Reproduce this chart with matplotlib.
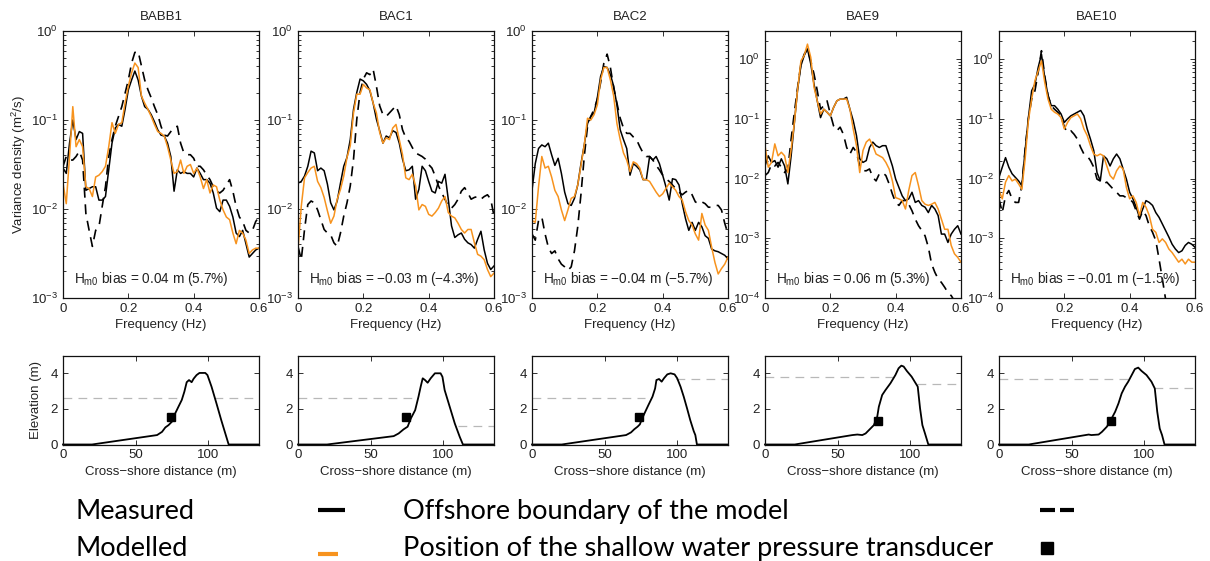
import numpy as np
import matplotlib
matplotlib.use("Agg")
import matplotlib.pyplot as plt
from matplotlib.lines import Line2D
from matplotlib.ticker import LogLocator, NullFormatter, FuncFormatter, FixedLocator

plt.rcParams["font.family"] = ["Liberation Sans", "DejaVu Sans"]
plt.rcParams["mathtext.fontset"] = "custom"
plt.rcParams["mathtext.rm"] = "Liberation Sans"
plt.rcParams["mathtext.it"] = "Liberation Sans:italic"

# ---------------------------------------------------------------- data
stations = ["BABB1", "BAC1", "BAC2", "BAE9", "BAE10"]
bias_labels = ["0.04 m (5.7%)", "\u22120.03 m (\u22124.3%)", "\u22120.04 m (\u22125.7%)",
               "0.06 m (5.3%)", "\u22120.01 m (\u22121.5%)"]

# frequency axis of the spectra (Hz)
freq = np.round(np.arange(61) * 0.01, 2)

# variance density spectra, stored as log10(E) with E in m^2/s
babb1_measured = [-1.54, -1.60, -1.26, -1.00, -1.22, -1.13, -1.15, -1.79, -1.77, -1.75,
                  -1.75, -1.90, -1.90, -1.86, -1.56, -1.26, -1.09, -1.05, -1.07, -0.88,
                  -0.66, -0.55, -0.45, -0.55, -0.73, -0.85, -0.88, -0.94, -1.02, -1.11,
                  -1.17, -1.18, -1.26, -1.41, -1.80, -1.56, -1.60, -1.58, -1.60, -1.60,
                  -1.64, -1.54, -1.60, -1.67, -1.67, -1.71, -1.82, -1.99, -2.03, -1.90,
                  -1.90, -1.97, -2.09, -2.27, -2.31, -2.24, -2.39, -2.54, -2.50, -2.46, -2.44]
babb1_modelled = [-1.71, -1.94, -1.41, -0.85, -1.30, -1.22, -1.30, -1.75, -1.77, -1.86,
                  -1.64, -1.62, -1.58, -1.52, -1.30, -1.03, -1.15, -1.05, -1.03, -0.81,
                  -0.62, -0.47, -0.36, -0.41, -0.73, -0.81, -0.88, -0.96, -1.05, -1.13,
                  -1.15, -1.18, -1.30, -1.45, -1.60, -1.58, -1.45, -1.60, -1.52, -1.50,
                  -1.60, -1.54, -1.64, -1.77, -1.67, -1.82, -1.73, -1.75, -1.90, -2.01,
                  -2.09, -2.12, -2.27, -2.39, -2.24, -2.27, -2.35, -2.50, -2.46, -2.44, -2.44]
babb1_offshore = [-1.52, -1.41, -1.45, -1.45, -1.41, -1.35, -1.45, -2.05, -2.24, -2.42,
                  -2.24, -2.20, -1.97, -1.75, -1.41, -1.22, -1.07, -0.96, -0.85, -0.70,
                  -0.55, -0.36, -0.24, -0.23, -0.39, -0.55, -0.66, -0.75, -0.85, -0.94,
                  -1.07, -1.17, -1.18, -1.13, -1.09, -1.07, -1.26, -1.37, -1.39, -1.39,
                  -1.43, -1.52, -1.52, -1.56, -1.62, -1.67, -1.75, -1.80, -1.82, -1.79,
                  -1.73, -1.67, -1.80, -1.97, -2.09, -2.14, -2.24, -2.27, -2.24, -2.14, -2.09]

bac1_measured = [-1.71, -1.69, -1.63, -1.52, -1.35, -1.37, -1.57, -1.54, -1.57, -1.72,
                 -1.93, -2.01, -1.91, -1.71, -1.52, -1.42, -1.22, -0.88, -0.69, -0.54,
                 -0.56, -0.60, -0.67, -0.81, -0.99, -1.12, -1.26, -1.18, -1.20, -1.12,
                 -1.14, -1.26, -1.44, -1.57, -1.56, -1.52, -1.89, -1.78, -1.52, -1.57,
                 -1.69, -1.80, -1.82, -1.69, -1.71, -1.61, -1.89, -2.19, -2.32, -2.29,
                 -2.27, -2.34, -2.38, -2.40, -2.44, -2.34, -2.25, -2.46, -2.61, -2.68, -2.64]
bac1_modelled = [-2.46, -1.97, -1.65, -1.59, -1.54, -1.52, -1.69, -1.76, -1.87, -2.02,
                 -2.16, -2.08, -1.89, -1.78, -1.63, -1.42, -1.29, -0.92, -0.71, -0.71,
                 -0.60, -0.64, -0.66, -0.81, -0.92, -1.14, -1.26, -1.20, -1.22, -1.09,
                 -1.05, -1.22, -1.39, -1.65, -1.67, -1.61, -1.74, -2.01, -1.95, -1.97,
                 -2.06, -2.08, -2.04, -1.99, -1.91, -1.86, -2.04, -2.08, -2.10, -2.16,
                 -2.23, -2.27, -2.23, -2.23, -2.38, -2.51, -2.53, -2.57, -2.68, -2.76, -2.72]
bac1_offshore = [-2.42, -2.57, -2.23, -1.95, -1.91, -1.93, -2.01, -2.12, -2.23, -2.27,
                 -2.29, -2.38, -2.42, -2.27, -2.08, -1.93, -1.74, -1.44, -0.99, -0.69,
                 -0.54, -0.47, -0.49, -0.43, -0.62, -0.84, -0.94, -0.96, -0.92, -0.88,
                 -0.84, -0.94, -1.11, -1.20, -1.24, -1.31, -1.37, -1.39, -1.41, -1.44,
                 -1.50, -1.54, -1.63, -1.74, -1.82, -1.89, -1.97, -1.99, -1.95, -1.89,
                 -1.80, -1.76, -1.82, -1.89, -1.87, -1.86, -1.89, -1.86, -1.84, -1.89, -2.08]

bac2_measured = [-1.79, -1.49, -1.32, -1.28, -1.30, -1.26, -1.39, -1.51, -1.43, -1.60,
                 -1.81, -1.94, -1.96, -1.88, -1.73, -1.49, -1.28, -1.04, -0.96, -0.92,
                 -0.75, -0.51, -0.40, -0.41, -0.49, -0.62, -0.83, -1.11, -1.22, -1.32,
                 -1.62, -1.49, -1.52, -1.56, -1.67, -1.67, -1.41, -1.45, -1.41, -1.49,
                 -1.62, -1.75, -1.90, -1.66, -1.67, -1.73, -1.94, -2.11, -2.24, -2.15,
                 -2.24, -2.15, -2.20, -2.30, -2.33, -2.45, -2.47, -2.48, -2.50, -2.52, -2.56]
bac2_modelled = [-2.13, -2.15, -1.75, -1.41, -1.54, -1.52, -1.64, -1.79, -1.86, -2.01,
                 -2.13, -2.01, -1.88, -1.86, -1.73, -1.51, -1.28, -0.98, -1.00, -0.94,
                 -0.83, -0.55, -0.41, -0.41, -0.55, -0.73, -1.04, -1.22, -1.37, -1.45,
                 -1.58, -1.47, -1.49, -1.54, -1.67, -1.67, -1.69, -1.75, -1.81, -1.86,
                 -1.83, -1.77, -1.71, -1.75, -1.79, -1.86, -1.90, -2.03, -2.13, -2.18,
                 -2.28, -2.35, -2.05, -2.18, -2.24, -2.43, -2.60, -2.73, -2.67, -2.62, -2.54]
bac2_offshore = [-2.28, -2.35, -2.13, -2.09, -2.28, -2.43, -2.50, -2.47, -2.56, -2.62,
                 -2.65, -2.69, -2.65, -2.47, -2.20, -1.83, -1.41, -1.07, -0.96, -0.88,
                 -0.77, -0.58, -0.36, -0.26, -0.41, -0.64, -0.81, -0.98, -1.09, -1.15,
                 -1.15, -1.19, -1.22, -1.30, -1.37, -1.41, -1.41, -1.45, -1.51, -1.56,
                 -1.62, -1.66, -1.69, -1.73, -1.77, -1.81, -1.84, -1.81, -1.79, -1.84,
                 -1.92, -1.94, -1.92, -1.94, -1.98, -1.98, -1.96, -1.96, -2.01, -2.16, -2.28]

bae9_measured = [-1.79, -1.62, -1.73, -1.70, -1.81, -1.67, -1.79, -2.09, -1.62, -1.06,
                 -0.50, -0.11, 0.06, 0.17, -0.08, -0.42, -0.70, -0.98, -0.84, -0.89,
                 -0.95, -0.81, -0.70, -0.67, -0.67, -0.64, -0.84, -1.03, -1.28, -1.67,
                 -1.73, -1.70, -1.48, -1.39, -1.45, -1.48, -1.45, -1.45, -1.62, -1.79,
                 -2.01, -2.15, -2.29, -2.37, -2.34, -2.23, -2.40, -2.37, -2.45, -2.48,
                 -2.57, -2.45, -2.51, -2.62, -2.93, -2.93, -3.07, -2.93, -2.85, -2.79, -2.93]
bae9_modelled = [-1.45, -1.81, -1.73, -1.42, -1.62, -1.56, -1.62, -1.90, -1.51, -1.06,
                 -0.50, -0.03, 0.06, 0.25, 0.03, -0.47, -0.70, -0.92, -0.84, -0.89,
                 -0.95, -0.81, -0.70, -0.67, -0.67, -0.67, -0.84, -1.17, -1.45, -1.90,
                 -1.53, -1.39, -1.34, -1.45, -1.59, -1.62, -1.65, -1.73, -1.84, -2.04,
                 -2.32, -2.34, -2.37, -2.51, -2.20, -1.95, -1.90, -2.12, -2.37, -2.43,
                 -2.45, -2.43, -2.40, -2.51, -2.68, -2.85, -2.85, -3.12, -3.26, -3.32, -3.40]
bae9_offshore = [-1.95, -1.90, -1.76, -1.79, -1.73, -1.81, -1.90, -1.84, -1.34, -0.89,
                 -0.47, -0.08, 0.08, 0.17, -0.03, -0.25, -0.53, -0.84, -0.78, -0.70,
                 -0.92, -1.12, -1.20, -1.14, -1.26, -1.48, -1.59, -1.48, -1.56, -1.79,
                 -1.87, -1.87, -1.84, -1.98, -2.04, -1.92, -1.90, -1.95, -2.09, -2.26,
                 -2.40, -2.45, -2.37, -2.37, -2.43, -2.54, -2.68, -2.79, -2.87, -2.96,
                 -3.15, -3.43, -3.57, -3.68, -3.74, -3.82, -3.91, -3.96, -4.05, -4.13, -4.21]

bae10_measured = [-1.98, -1.81, -1.65, -1.81, -1.92, -1.98, -2.04, -2.12, -1.53, -0.98,
                  -0.53, -0.42, -0.14, 0.08, -0.31, -0.61, -0.78, -0.78, -0.84, -0.92,
                  -1.06, -1.00, -0.95, -0.92, -0.89, -0.86, -0.95, -1.17, -1.34, -1.53,
                  -1.90, -2.04, -1.62, -1.67, -1.79, -1.67, -1.59, -1.67, -1.84, -2.01,
                  -2.23, -2.34, -2.48, -2.65, -2.51, -2.37, -2.40, -2.45, -2.57, -2.65,
                  -2.76, -2.87, -2.98, -3.10, -3.18, -3.24, -3.21, -3.12, -3.07, -3.10, -3.15]
bae10_modelled = [-2.20, -2.34, -2.06, -1.95, -2.04, -2.01, -2.09, -2.18, -1.67, -1.03,
                  -0.67, -0.36, -0.20, -0.03, -0.39, -0.67, -0.84, -0.89, -0.92, -0.98,
                  -1.17, -1.06, -0.98, -0.95, -0.92, -1.00, -1.17, -1.28, -1.45, -1.59,
                  -1.62, -1.59, -1.62, -1.79, -1.95, -2.01, -1.87, -1.79, -1.84, -2.15,
                  -2.34, -2.29, -2.40, -2.62, -2.40, -2.48, -2.62, -2.85, -2.90, -3.07,
                  -3.01, -3.07, -3.18, -3.24, -3.32, -3.40, -3.35, -3.43, -3.35, -3.40, -3.40]
bae10_offshore = [-2.34, -2.57, -2.29, -2.20, -2.34, -2.40, -2.40, -2.12, -1.51, -1.00,
                  -0.67, -0.53, -0.22, 0.14, -0.28, -0.61, -0.78, -0.84, -0.89, -0.95,
                  -1.14, -1.23, -1.20, -1.26, -1.34, -1.48, -1.59, -1.62, -1.70, -1.81,
                  -2.01, -2.04, -2.09, -2.06, -2.12, -2.18, -2.23, -2.29, -2.29, -2.32,
                  -2.34, -2.40, -2.54, -2.68, -2.54, -2.62, -2.79, -2.90, -3.04, -3.35,
                  -3.68, -4.02, -4.30]

# beach profiles: cross-shore distance (m) and elevation (m)
babb1_profile_x = [0, 20, 64.8, 68.2, 70.5, 72.7, 75.0, 77.3, 79.5, 81.8, 83.6, 85.2, 86.8,
                   88.6, 90.0, 92.0, 94.0, 98.0, 99.5, 102.3, 105.7, 109.0, 112.5, 114.1, 135]
babb1_profile_z = [0, 0, 0.53, 0.71, 0.96, 1.09, 1.28, 1.75, 2.12, 2.50, 2.97, 3.50, 3.62,
                   3.50, 3.70, 3.90, 4.02, 4.02, 3.90, 3.25, 2.31, 1.37, 0.43, 0, 0]
bac1_profile_x = [0, 20, 65.9, 69.3, 72.7, 75.5, 77.7, 80.7, 83.0, 84.5, 85.9, 87.5, 89.3,
                  91.4, 94.3, 98.2, 99.5, 101.0, 104.5, 108.0, 111.4, 113.6, 135]
bac1_profile_z = [0, 0, 0.47, 0.62, 0.85, 1.00, 1.46, 1.93, 2.69, 3.25, 3.72, 3.62, 3.47,
                  3.72, 4.00, 4.00, 3.80, 3.06, 2.12, 1.18, 0.43, 0, 0]
bac2_profile_x = [0, 20.5, 64.8, 68.2, 70.5, 72.7, 74.3, 75.7, 78.0, 80.2, 83.0, 84.8, 85.7,
                  87.5, 89.3, 90.9, 93.2, 95.5, 98.2, 100.0, 102.3, 104.5, 106.8, 109.0,
                  111.4, 112.5, 113.6, 135]
bac2_profile_z = [0, 0, 0.53, 0.68, 0.86, 1.00, 1.13, 1.43, 1.84, 2.22, 2.69, 3.15, 3.62,
                  3.68, 3.53, 3.72, 3.94, 4.00, 3.94, 3.72, 3.25, 2.69, 2.03, 1.37,
                  0.75, 0.53, 0, 0]
bae9_profile_x = [0, 20.5, 60.2, 63.6, 67.0, 69.3, 72.7, 75.0, 77.3, 78.4, 80.7, 83.0, 86.4,
                  89.8, 92.0, 93.9, 95.5, 97.7, 101.0, 105.2, 106.8, 108.4, 110.2, 112.5, 135]
bae9_profile_z = [0, 0, 0.53, 0.56, 0.53, 0.62, 0.90, 1.09, 1.56, 2.12, 2.78, 3.06, 3.44,
                  3.90, 4.28, 4.43, 4.38, 4.13, 3.81, 3.25, 2.03, 1.09, 0.62, 0, 0]
bae10_profile_x = [0, 20.5, 61.8, 63.6, 68.6, 70.9, 74.3, 76.6, 80.0, 82.3, 84.5, 86.8, 89.0,
                   91.4, 93.6, 95.9, 98.2, 101.6, 105.0, 107.3, 109.0, 110.7, 112.3, 114.0, 135]
bae10_profile_z = [0, 0, 0.56, 0.53, 0.56, 0.71, 1.00, 1.31, 1.84, 2.31, 2.87, 3.25, 3.53,
                   3.90, 4.24, 4.32, 4.13, 3.90, 3.53, 3.15, 1.84, 0.90, 0.53, 0, 0]

# pressure transducer position (x, z)
sensor_x = [74.5, 74.5, 73.9, 77.9, 77.3]
sensor_z = [1.56, 1.56, 1.56, 1.33, 1.31]

# water levels seaward / landward of the dune and their cross-shore extents
level_sea = [2.62, 2.60, 2.59, 3.81, 3.68]
level_sea_end = [80, 80, 78, 90, 92]
level_land = [2.62, 1.05, 3.66, 3.38, 3.15]
level_land_start = [104, 110, 99, 105, 107]

measured = [babb1_measured, bac1_measured, bac2_measured, bae9_measured, bae10_measured]
modelled = [babb1_modelled, bac1_modelled, bac2_modelled, bae9_modelled, bae10_modelled]
offshore = [babb1_offshore, bac1_offshore, bac2_offshore, bae9_offshore, bae10_offshore]
profile_x = [babb1_profile_x, bac1_profile_x, bac2_profile_x, bae9_profile_x, bae10_profile_x]
profile_z = [babb1_profile_z, bac1_profile_z, bac2_profile_z, bae9_profile_z, bae10_profile_z]
spec_ylim = [(1e-3, 1.0), (1e-3, 1.0), (1e-3, 1.0), (1e-4, 2.95), (1e-4, 2.95)]

# ---------------------------------------------------------------- layout
W, H = 1210, 561
ORANGE = "#F7931E"
TXT = "#222222"
FS = 9.5

fig = plt.figure(figsize=(W / 100, H / 100), dpi=100)
fig.patch.set_facecolor("white")

col_left = [63, 298, 532, 765, 999]
col_w = 196


def px_axes(left, top, width, height):
    return fig.add_axes([left / W, 1 - (top + height) / H, width / W, height / H])


def style_axes(ax):
    for s in ax.spines.values():
        s.set_linewidth(0.9)
        s.set_color("#111111")
    ax.tick_params(which="both", direction="in", top=True, right=True,
                   labelsize=FS, colors="#111111", labelcolor=TXT, width=0.6)
    ax.tick_params(which="major", length=3.5)
    ax.tick_params(which="minor", length=2.0)


fmt_g = FuncFormatter(lambda v, p: f"{v:g}")

for k, name in enumerate(stations):
    # spectra
    ax = px_axes(col_left[k], 31, col_w, 267)
    style_axes(ax)
    m = np.power(10.0, measured[k])
    mo = np.power(10.0, modelled[k])
    off = np.power(10.0, offshore[k])
    ax.plot(freq[:len(off)], off, color="black", lw=1.2, dashes=(6, 4))
    ax.plot(freq, m, color="black", lw=1.1)
    ax.plot(freq, mo, color=ORANGE, lw=1.1)
    ax.set_yscale("log")
    ax.set_ylim(*spec_ylim[k])
    ax.set_xlim(0, 0.6)
    ax.yaxis.set_major_locator(LogLocator(base=10, numticks=10))
    ax.yaxis.set_minor_locator(LogLocator(base=10, subs=np.arange(2, 10), numticks=10))
    ax.yaxis.set_minor_formatter(NullFormatter())
    ax.xaxis.set_major_locator(FixedLocator([0, 0.2, 0.4, 0.6]))
    ax.xaxis.set_major_formatter(fmt_g)
    ax.set_xlabel("Frequency (Hz)", fontsize=FS, color=TXT, labelpad=3)
    ax.set_title(name, fontsize=FS, color=TXT, pad=8)
    ax.text(0.055, 0.055, r"H$_{\mathrm{m0}}$ bias = " + bias_labels[k],
            transform=ax.transAxes, fontsize=FS + 0.3, color=TXT, va="baseline", ha="left")
    if k == 0:
        ax.set_ylabel("Variance density (m$^2$/s)", fontsize=FS, color=TXT, labelpad=2)

    # beach profile
    bx = px_axes(col_left[k], 355.5, col_w, 89)
    style_axes(bx)
    bx.plot([0, level_sea_end[k]], [level_sea[k]] * 2, color="#b8b8b8", lw=0.9, dashes=(7, 5))
    bx.plot([level_land_start[k], 135], [level_land[k]] * 2, color="#b8b8b8", lw=0.9, dashes=(7, 5))
    bx.plot(profile_x[k], profile_z[k], color="black", lw=1.3, clip_on=False)
    bx.plot([sensor_x[k]], [sensor_z[k]], marker="s", color="black", ms=5.6, ls="none")
    bx.set_xlim(0, 135)
    bx.set_ylim(0, 5)
    bx.set_xticks([0, 50, 100])
    bx.set_yticks([0, 2, 4])
    bx.set_xlabel("Cross\u2212shore distance (m)", fontsize=FS, color=TXT, labelpad=3)
    if k == 0:
        bx.set_ylabel("Elevation (m)", fontsize=FS, color=TXT, labelpad=6)

# ---------------------------------------------------------------- key
LEG_FONT = ["Lato", "DejaVu Sans"]
LEG_FS = 19.5
y1, y2 = 1 - 519 / H, 1 - 556 / H
fig.text(76 / W, y1, "Measured", fontsize=LEG_FS, family=LEG_FONT, va="baseline", color="black")
fig.text(76 / W, y2, "Modelled", fontsize=LEG_FS, family=LEG_FONT, va="baseline", color="black")
fig.text(403 / W, y1, "Offshore boundary of the model", fontsize=LEG_FS, family=LEG_FONT,
         va="baseline", color="black")
fig.text(403 / W, y2, "Position of the shallow water pressure transducer", fontsize=LEG_FS,
         family=LEG_FONT, va="baseline", color="black")

fig.add_artist(Line2D([318 / W, 345 / W], [1 - 509.5 / H] * 2, color="black", lw=3,
                      solid_capstyle="butt"))
fig.add_artist(Line2D([318 / W, 338 / W], [1 - 554 / H] * 2, color=ORANGE, lw=3,
                      solid_capstyle="butt"))
dash = Line2D([1040 / W, 1074 / W], [1 - 509.5 / H] * 2, color="black", lw=3,
              solid_capstyle="butt")
dash.set_dashes((3.6, 1.2))
fig.add_artist(dash)
fig.add_artist(Line2D([1047 / W], [1 - 548 / H], marker="s", color="black", ms=8, ls="none"))

fig.savefig("out.png", dpi=100, facecolor="white")
